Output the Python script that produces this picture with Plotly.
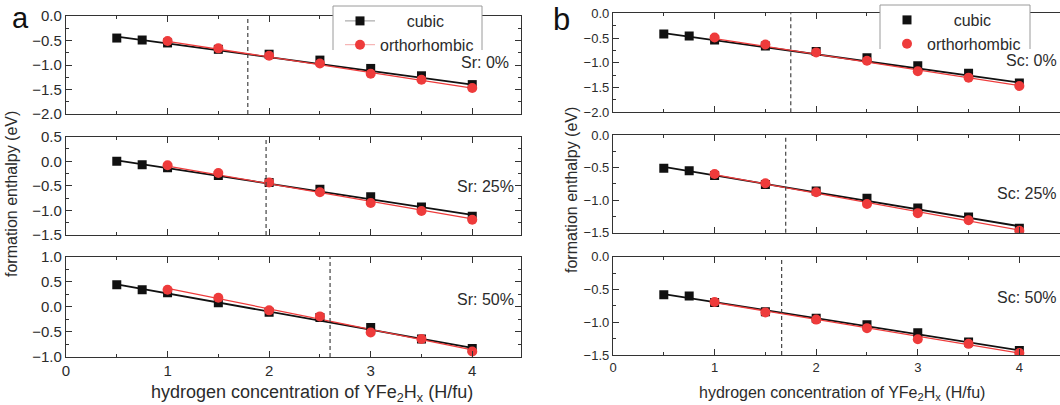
import plotly.graph_objects as go

W, H = 1060, 405
FONT = "Liberation Sans, Arial, sans-serif"
TXT = "#2b2b2b"
AX = "#333333"
RED = "#ee3b3b"

# ---------------- data ----------------
x_cubic = [0.5, 0.75, 1, 1.5, 2, 2.5, 3, 3.5, 4]
x_ortho = [1, 1.5, 2, 2.5, 3, 3.5, 4]
fit_x_cubic = [0.5, 4]
fit_x_ortho = [1, 4]

# panel a : Sr substitution
sr0_cubic = [-0.45, -0.49, -0.55, -0.68, -0.78, -0.90, -1.07, -1.22, -1.40]
sr0_ortho = [-0.51, -0.66, -0.81, -0.97, -1.18, -1.30, -1.47]
sr25_cubic = [0.00, -0.07, -0.13, -0.29, -0.43, -0.57, -0.72, -0.93, -1.12]
sr25_ortho = [-0.08, -0.24, -0.43, -0.63, -0.85, -1.01, -1.19]
sr50_cubic = [0.44, 0.34, 0.28, 0.08, -0.11, -0.21, -0.41, -0.64, -0.83]
sr50_ortho = [0.34, 0.18, -0.07, -0.19, -0.51, -0.64, -0.89]
sr0_fit_cubic = [-0.42, -1.40]
sr0_fit_ortho = [-0.52, -1.47]
sr25_fit_cubic = [0.02, -1.09]
sr25_fit_ortho = [-0.10, -1.17]
sr50_fit_cubic = [0.45, -0.82]
sr50_fit_ortho = [0.37, -0.86]
sr_cross = [1.79, 1.97, 2.60]

# panel b : Sc substitution
sc0_cubic = [-0.42, -0.46, -0.54, -0.66, -0.77, -0.90, -1.06, -1.21, -1.41]
sc0_ortho = [-0.49, -0.63, -0.79, -0.96, -1.17, -1.30, -1.47]
sc25_cubic = [-0.51, -0.55, -0.62, -0.76, -0.86, -0.97, -1.12, -1.26, -1.43]
sc25_ortho = [-0.60, -0.74, -0.88, -1.06, -1.20, -1.31, -1.47]
sc50_cubic = [-0.58, -0.60, -0.70, -0.84, -0.94, -1.04, -1.16, -1.30, -1.43]
sc50_ortho = [-0.69, -0.85, -0.96, -1.09, -1.26, -1.33, -1.47]
sc0_fit_cubic = [-0.40, -1.40]
sc0_fit_ortho = [-0.51, -1.46]
sc25_fit_cubic = [-0.49, -1.40]
sc25_fit_ortho = [-0.61, -1.46]
sc50_fit_cubic = [-0.57, -1.43]
sc50_fit_ortho = [-0.70, -1.47]
sc_cross = [1.75, 1.70, 1.66]

panel_labels = ["Sr: 0%", "Sr: 25%", "Sr: 50%", "Sc: 0%", "Sc: 25%", "Sc: 50%"]
y_ranges = [[-2, 0], [-1.5, 0.5], [-1, 1], [-2, 0], [-1.5, 0], [-1.5, 0]]

panels = [
    (sr0_cubic, sr0_ortho, sr0_fit_cubic, sr0_fit_ortho, sr_cross[0]),
    (sr25_cubic, sr25_ortho, sr25_fit_cubic, sr25_fit_ortho, sr_cross[1]),
    (sr50_cubic, sr50_ortho, sr50_fit_cubic, sr50_fit_ortho, sr_cross[2]),
    (sc0_cubic, sc0_ortho, sc0_fit_cubic, sc0_fit_ortho, sc_cross[0]),
    (sc25_cubic, sc25_ortho, sc25_fit_cubic, sc25_fit_ortho, sc_cross[1]),
    (sc50_cubic, sc50_ortho, sc50_fit_cubic, sc50_fit_ortho, sc_cross[2]),
]

# ---------------- layout geometry (pixels) ----------------
def px_x(v):
    return v / W

def px_y(v):
    return 1 - v / H

x_boxes = [(66, 521)] * 3 + [(613, 1060)] * 3
y_boxes = [(16, 114), (136.7, 235), (256.7, 357),
           (13.3, 112.3), (135, 232.7), (256.7, 355)]
x_ranges = [[0, 4.48]] * 3 + [[0, 4.40]] * 3

fig = go.Figure()
shapes = []

for i, (yc, yo, fc, fo, cross) in enumerate(panels):
    n = i + 1
    xa = "x" if n == 1 else f"x{n}"
    ya = "y" if n == 1 else f"y{n}"
    leg = "legend" if i < 3 else "legend2"
    fig.add_trace(go.Scatter(x=fit_x_cubic, y=fc, mode="lines", xaxis=xa, yaxis=ya,
                             line=dict(color="#111111", width=1.8), showlegend=False,
                             hoverinfo="skip"))
    fig.add_trace(go.Scatter(x=fit_x_ortho, y=fo, mode="lines", xaxis=xa, yaxis=ya,
                             line=dict(color=RED, width=1.3), showlegend=False,
                             hoverinfo="skip"))
    fig.add_trace(go.Scatter(x=x_cubic, y=yc, mode="markers", xaxis=xa, yaxis=ya,
                             name="\u00a0" * 6 + "cubic", legend=leg,
                             marker=dict(symbol="square", size=9, color="#111111"),
                             showlegend=(i == 3)))
    fig.add_trace(go.Scatter(x=x_ortho, y=yo, mode="markers", xaxis=xa, yaxis=ya,
                             name="orthorhombic", legend=leg,
                             marker=dict(symbol="circle", size=10, color=RED),
                             showlegend=(i == 3)))
    shapes.append(dict(type="line", xref=xa, yref=f"{ya} domain", x0=cross, x1=cross,
                       y0=0, y1=1, line=dict(color="#444444", width=1.2, dash="4px,3px")))

# legend entries of panel a (line + symbol style)
fig.add_trace(go.Scatter(x=[None], y=[None], mode="lines+markers", legend="legend",
                         name="\u00a0" * 6 + "cubic",
                         line=dict(color="#9a9a9a", width=1),
                         marker=dict(symbol="square", size=9, color="#111111")))
fig.add_trace(go.Scatter(x=[None], y=[None], mode="lines+markers", legend="legend",
                         name="orthorhombic",
                         line=dict(color="#f4a6a6", width=1),
                         marker=dict(symbol="circle", size=10, color=RED)))

layout = dict(
    width=W, height=H, margin=dict(l=0, r=0, t=0, b=0, pad=0, autoexpand=False),
    paper_bgcolor="white", plot_bgcolor="white",
    font=dict(family=FONT, color=TXT),
    showlegend=True,
)

for i in range(6):
    n = i + 1
    left = i < 3
    bottom = i in (2, 5)
    tfs = 15 if left else 13
    xkey = "xaxis" if n == 1 else f"xaxis{n}"
    ykey = "yaxis" if n == 1 else f"yaxis{n}"
    anchor_y = "y" if n == 1 else f"y{n}"
    anchor_x = "x" if n == 1 else f"x{n}"
    layout[xkey] = dict(
        domain=[px_x(x_boxes[i][0]), px_x(x_boxes[i][1])], range=x_ranges[i],
        anchor=anchor_y, showline=True, linecolor=AX, linewidth=1.3, mirror="ticks",
        ticks="inside", ticklen=6, tickwidth=1.2, tickcolor=AX, tick0=0, dtick=1,
        minor=dict(ticks="inside", ticklen=3, dtick=0.5, tickcolor=AX, tickwidth=1),
        showgrid=False, zeroline=False, showticklabels=bottom, automargin=False,
        tickfont=dict(size=tfs, color=TXT, family=FONT),
    )
    layout[ykey] = dict(
        domain=[px_y(y_boxes[i][1]), px_y(y_boxes[i][0])], range=y_ranges[i],
        anchor=anchor_x, showline=True, linecolor=AX, linewidth=1.3,
        mirror="ticks" if left else False,
        ticks="inside", ticklen=6, tickwidth=1.2, tickcolor=AX, dtick=0.5,
        tick0=0, tickformat=".1f", automargin=False,
        minor=dict(ticks="inside", ticklen=3, dtick=0.25, tickcolor=AX, tickwidth=1),
        showgrid=False, zeroline=False,
        tickfont=dict(size=tfs, color=TXT, family=FONT),
    )

legend_common = dict(xanchor="left", yanchor="top", xref="paper", yref="paper",
                     bgcolor="rgba(0,0,0,0)", borderwidth=0, traceorder="normal",
                     font=dict(size=16, color=TXT, family=FONT), tracegroupgap=0)
layout["legend"] = dict(x=px_x(340), y=px_y(4), **legend_common)
layout["legend2"] = dict(x=px_x(887), y=px_y(3), **legend_common)

# legend frames (open at the bottom)
for (x0, x1, yt, yb) in [(333, 482, 6, 50), (880, 1030, 5, 49)]:
    path = (f"M {px_x(x0)},{px_y(yb)} L {px_x(x0)},{px_y(yt)} "
            f"L {px_x(x1)},{px_y(yt)} L {px_x(x1)},{px_y(yb)}")
    shapes.append(dict(type="path", xref="paper", yref="paper", path=path,
                       fillcolor="white", line=dict(color="#9a9a9a", width=1),
                       layer="above"))
layout["shapes"] = shapes

ann = []
# composition labels
label_pos = [(511, 62, "right"), (516, 187, "right"), (516, 299, "right"),
             (1059, 60, "right"), (1059, 194, "right"), (1059, 297, "right")]
for lab, (xp, yp, xa) in zip(panel_labels, label_pos):
    ann.append(dict(text=lab, x=px_x(xp), y=px_y(yp), xref="paper", yref="paper",
                    xanchor=xa, yanchor="middle", showarrow=False,
                    font=dict(size=16, color=TXT, family=FONT)))
# panel letters
ann.append(dict(text="a", x=px_x(20), y=1, xref="paper", yref="paper",
                xanchor="center", yanchor="top", showarrow=False,
                font=dict(size=29, color="#111", family=FONT)))
ann.append(dict(text="b", x=px_x(561), y=1, xref="paper", yref="paper",
                xanchor="center", yanchor="top", showarrow=False,
                font=dict(size=31, color="#111", family=FONT)))
# axis titles
ytitle = "formation enthalpy (eV)"
xtitle = "hydrogen concentration of YFe<sub>2</sub>H<sub>x</sub> (H/fu)"
ann.append(dict(text=ytitle, x=px_x(12), y=px_y(194), xref="paper", yref="paper",
                textangle=-90, xanchor="center", yanchor="middle", showarrow=False,
                font=dict(size=16, color=TXT, family=FONT)))
ann.append(dict(text=ytitle, x=px_x(571), y=px_y(190), xref="paper", yref="paper",
                textangle=-90, xanchor="center", yanchor="middle", showarrow=False,
                font=dict(size=16, color=TXT, family=FONT)))
ann.append(dict(text=xtitle, x=px_x(312), y=px_y(393), xref="paper", yref="paper",
                xanchor="center", yanchor="middle", showarrow=False,
                font=dict(size=18, color=TXT, family=FONT)))
ann.append(dict(text=xtitle, x=px_x(842), y=px_y(393), xref="paper", yref="paper",
                xanchor="center", yanchor="middle", showarrow=False,
                font=dict(size=16, color=TXT, family=FONT)))
layout["annotations"] = ann

fig.update_layout(**layout)
fig.write_html("out.html")
